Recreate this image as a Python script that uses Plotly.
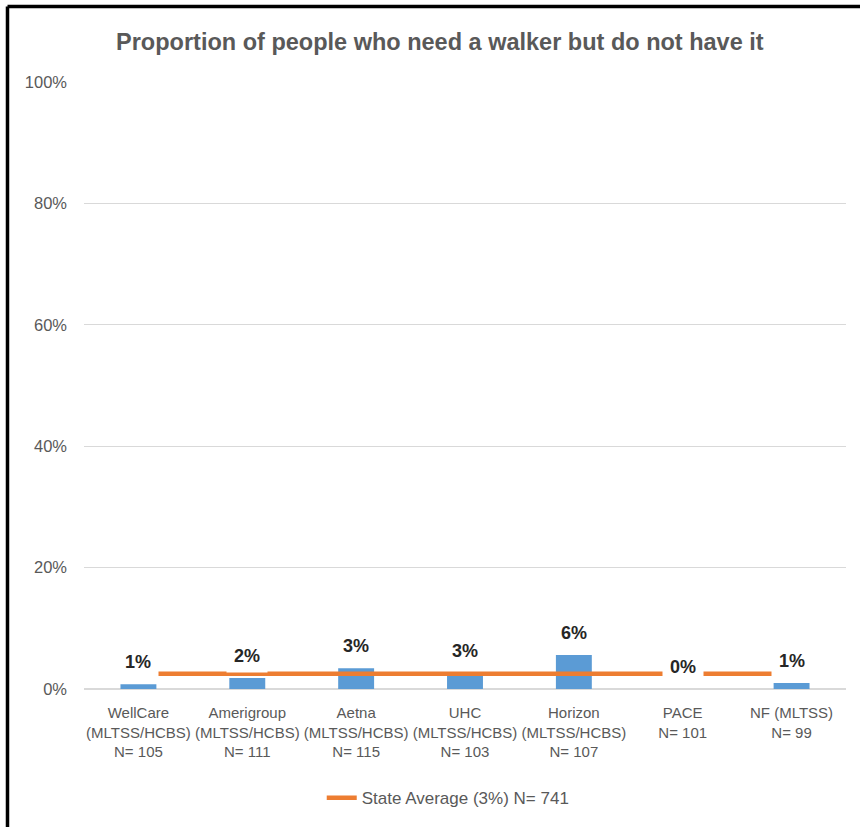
import plotly.graph_objects as go

categories = [
    "WellCare<br>(MLTSS/HCBS)<br>N= 105",
    "Amerigroup<br>(MLTSS/HCBS)<br>N= 111",
    "Aetna<br>(MLTSS/HCBS)<br>N= 115",
    "UHC<br>(MLTSS/HCBS)<br>N= 103",
    "Horizon<br>(MLTSS/HCBS)<br>N= 107",
    "PACE<br>N= 101",
    "NF (MLTSS)<br>N= 99",
]
values = [0.8, 1.8, 3.4, 2.6, 5.6, 0.0, 1.0]
state_average = 2.5
legend_name = "State Average (3%) N= 741"
title_text = "Proportion of people who need a walker but do not have it"
y_ticks = [0, 20, 40, 60, 80, 100]
y_tick_labels = ["0%", "20%", "40%", "60%", "80%", "100%"]

FONT = "Liberation Sans, Arial, sans-serif"
GREY = "#595959"

fig = go.Figure()
fig.add_trace(go.Bar(
    x=categories, y=values, marker=dict(color="#5B9BD5", line=dict(width=0)),
    showlegend=False, hoverinfo="skip",
))
fig.add_trace(go.Scatter(
    x=categories, y=[state_average] * len(categories), mode="lines",
    line=dict(color="#ED7D31", width=4.5), name=legend_name,
))

for c, v in zip(categories, values):
    fig.add_annotation(
        x=c, y=v, xref="x", yref="y", text=f"{round(v)}%", showarrow=False,
        yanchor="middle", yshift=22, bgcolor="white", width=40, height=32,
        borderpad=0, font=dict(family=FONT, size=18, color="#262626", weight="bold"),
    )

# outer frame (left and top black border)
fig.add_shape(type="line", xref="paper", yref="paper", x0=-0.1004, x1=-0.1004,
              y0=-0.24, y1=1.1244, line=dict(color="black", width=3.5))
fig.add_shape(type="line", xref="paper", yref="paper", x0=-0.1004, x1=1.03,
              y0=1.1244, y1=1.1244, line=dict(color="black", width=3.5))

fig.update_layout(
    width=860, height=827,
    margin=dict(l=84, r=14, t=82, b=138, autoexpand=False),
    paper_bgcolor="white", plot_bgcolor="white",
    bargap=0.67,
    title=dict(text=title_text, x=0.467, xref="paper", xanchor="center",
               y=1 - 42 / 827, yref="container", yanchor="middle",
               font=dict(family=FONT, size=23.5, color=GREY, weight="bold")),
    showlegend=True,
    legend=dict(orientation="h", x=0.478, xanchor="center", y=-0.18, yanchor="middle",
                font=dict(family=FONT, size=17, color=GREY), bgcolor="rgba(0,0,0,0)"),
    font=dict(family=FONT, color=GREY),
)
fig.update_xaxes(showgrid=False, showline=False, ticks="", tickangle=0,
                 tickfont=dict(size=15, color=GREY), ticklabelstandoff=13, automargin=False)
fig.update_yaxes(range=[0, 100], tickvals=y_ticks, ticktext=y_tick_labels,
                 showgrid=True, gridcolor="#D9D9D9", gridwidth=1,
                 zeroline=True, zerolinecolor="#D9D9D9", zerolinewidth=1.5,
                 showline=False, ticks="", tickfont=dict(size=16.5, color=GREY),
                 ticklabelstandoff=16, automargin=False)

fig.write_html("out.html", config={"displayModeBar": False},
               post_script="document.body.style.margin='0';document.body.style.overflow='hidden';")
